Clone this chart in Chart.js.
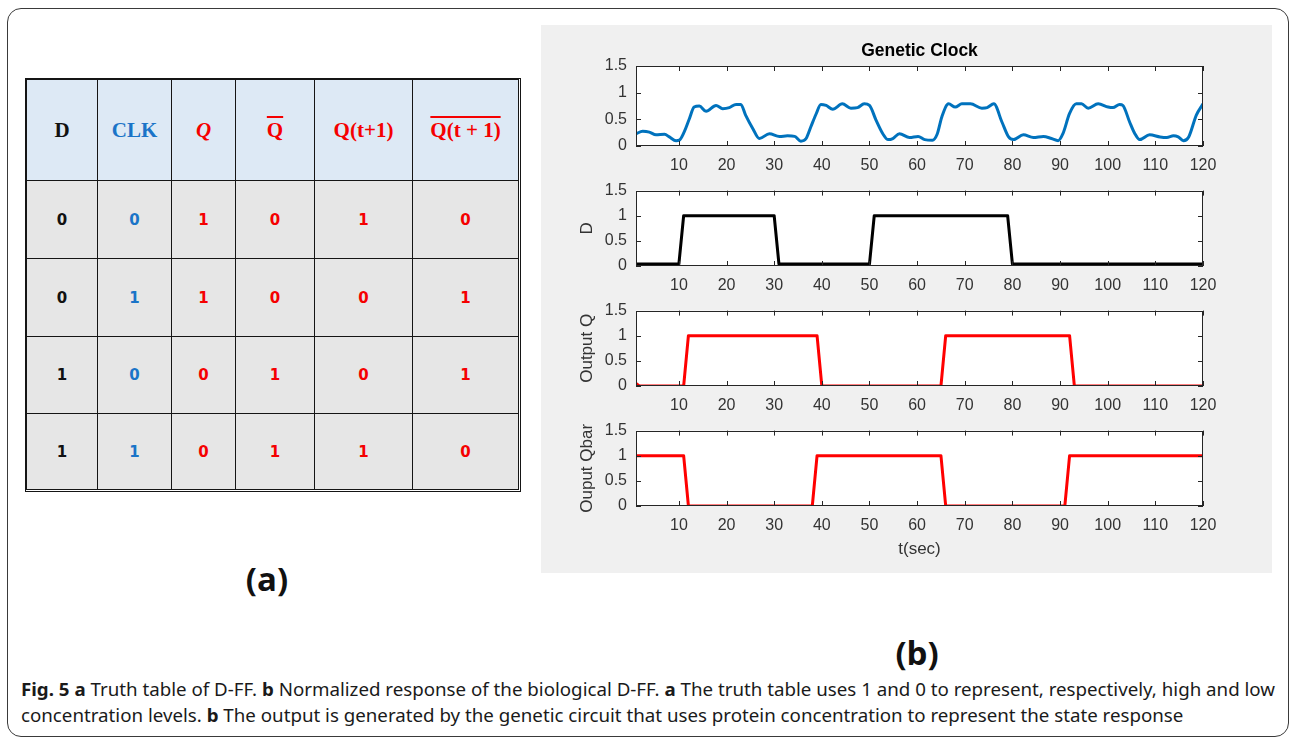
<!DOCTYPE html>
<html><head><meta charset="utf-8">
<script src="https://cdn.jsdelivr.net/npm/chart.js@4.4.0/dist/chart.umd.min.js"></script>
<style>
html,body{margin:0;padding:0;background:#fff;}
body{width:1292px;height:741px;position:relative;overflow:hidden;font-family:'Liberation Sans',Arial,sans-serif;}
#frame{position:absolute;left:7px;top:8px;width:1280px;height:727px;border:1.5px solid #3a3a3a;border-radius:14px;}
#panel{position:absolute;left:541px;top:25px;width:731px;height:548px;background:#f0f0f0;}
canvas{position:absolute;left:541px;}
.cell{position:absolute;box-sizing:border-box;border:1px solid #151515;display:flex;align-items:center;justify-content:center;}
.hd{background:#dde9f5;font-family:'Liberation Serif','DejaVu Serif',serif;font-weight:bold;font-size:21px;}
.bd{background:#e6e6e6;font-family:'DejaVu Sans',sans-serif;font-weight:bold;font-size:15px;}
#tbl{position:absolute;left:25px;top:78px;width:496px;height:414px;border:1px solid #151515;box-sizing:border-box;}
.lab{position:absolute;font-family:'Open Sans',sans-serif;font-weight:700;font-size:33px;color:#111;transform:translate(-50%,-50%);white-space:nowrap;}
.cap{position:absolute;left:21px;font-family:'Noto Sans',sans-serif;font-size:18px;line-height:26px;color:#1a1a1a;white-space:nowrap;transform-origin:0 0;}
.cap b{font-weight:bold;}
.ol{text-decoration:overline;text-decoration-thickness:2px;}
</style></head>
<body>
<div id="frame"></div>
<div id="tbl"></div>
<div class="lab" style="left:267px;top:578px;">(a)</div>
<div id="panel"></div>
<canvas id="c1" width="731" height="153" style="top:25px"></canvas>
<canvas id="c2" width="731" height="126" style="top:172px"></canvas>
<canvas id="c3" width="731" height="126" style="top:292px"></canvas>
<canvas id="c4" width="731" height="154" style="top:412px"></canvas>
<div class="lab" style="left:917px;top:652px;">(b)</div>
<div class="cap" id="cap1" style="top:676px;"><b>Fig. 5</b> <b>a</b> Truth table of D-FF. <b>b</b> Normalized response of the biological D-FF. <b>a</b> The truth table uses 1 and 0 to represent, respectively, high and low</div>
<div class="cap" id="cap2" style="top:702px;">concentration levels. <b>b</b> The output is generated by the genetic circuit that uses protein concentration to represent the state response</div>
<script>
// ---------------- data ----------------
const xTicks = [10,20,30,40,50,60,70,80,90,100,110,120];
const yTicks = [0,0.5,1,1.5];

const clockT = [1,2.4,3.8,5.2,7,8,9.4,10.1,11.1,12.2,13.2,14.3,15.7,17.8,19.2,20.6,22,23,24,25.5,26.9,29,31.1,32.8,34.3,35.6,36.7,37.7,38.8,39.8,40.9,42.3,44.3,46.1,47.5,48.9,50,51.4,52.8,53.9,54.9,56.3,58.4,60.2,61.6,63.2,64.2,65.2,66.6,68,69.4,71.2,73.6,74.7,76.1,77.8,79.2,80.2,82.3,84.4,86.5,88.2,89.6,90.6,92,93.4,94.5,95.9,98,100.1,101.1,102.5,103.2,104.6,105.7,106.7,108.8,111,112.4,113.8,114.8,115.9,117,118.6,120];
const clockV = [0.23,0.275,0.26,0.21,0.22,0.17,0.10,0.11,0.26,0.51,0.73,0.75,0.65,0.76,0.70,0.72,0.78,0.78,0.58,0.33,0.14,0.23,0.18,0.19,0.18,0.09,0.14,0.36,0.60,0.78,0.76,0.69,0.79,0.71,0.72,0.79,0.76,0.48,0.23,0.12,0.14,0.23,0.16,0.18,0.12,0.11,0.22,0.55,0.79,0.73,0.79,0.79,0.71,0.72,0.79,0.45,0.17,0.12,0.21,0.16,0.18,0.14,0.10,0.23,0.61,0.79,0.79,0.71,0.79,0.73,0.72,0.78,0.76,0.45,0.23,0.12,0.21,0.17,0.16,0.19,0.17,0.10,0.17,0.58,0.79];

const dT = [1,10,11,30,31,50,51,79,80,120];
const dV = [0.04,0.04,1,1,0.04,0.04,1,1,0.04,0.04];

const qT = [1,1.7,11,12,39,40,65,66,92,93,120];
const qV = [0.05,0,0,1,1,0,0,1,1,0,0];

const qbT = [1,11,12,38,39,65,66,91,92,120];
const qbV = [1,1,0,0,1,1,0,0,1,1];

const tableHeaders = ['D','CLK','Q','Q','Q(t+1)','Q(t + 1)'];
const tableRows = [[0,0,1,0,1,0],[0,1,1,0,0,1],[1,0,0,1,0,1],[1,1,0,1,1,0]];

// ---------------- table ----------------
const colEdges = [26,97,171,235,314,412,520];
const rowEdges = [79,180,258,336,413,491];
const colColors = ['#111','#1a74c8','#f50000','#f50000','#f50000','#f50000'];
const tbl = document.getElementById('tbl');
function addCell(r, c, html, cls){
  const d = document.createElement('div');
  d.className = 'cell ' + cls;
  d.style.left = (colEdges[c]-26)+'px';
  d.style.top = (rowEdges[r]-79)+'px';
  d.style.width = (colEdges[c+1]-colEdges[c]+ (c===5?-1:1))+'px';
  d.style.height = (rowEdges[r+1]-rowEdges[r]+(r===4?-1:1))+'px';
  d.style.color = colColors[c];
  d.innerHTML = html;
  tbl.appendChild(d);
}
tableHeaders.forEach((h,c)=>{
  let html = h;
  if (c===2) html = '<i>'+h+'</i>';
  if (c===3 || c===5) html = '<span class="ol">'+h+'</span>';
  addCell(0,c,html,'hd');
});
tableRows.forEach((row,r)=>row.forEach((v,c)=>addCell(r+1,c,String(v),'bd')));

// ---------------- caption fit ----------------
(function(){
  const c1 = document.getElementById('cap1'), c2 = document.getElementById('cap2');
  const w = c1.getBoundingClientRect().width;
  const s = 1254 / w;
  c1.style.transform = 'scaleX('+s+')';
  c2.style.transform = 'scaleX('+s+')';
})();

// ---------------- charts ----------------
Chart.defaults.font.family = "'Liberation Sans', Arial, sans-serif";
Chart.defaults.color = '#333';

const boxPlugin = {
  id: 'matlabBox',
  beforeDatasetsDraw(chart){
    const {ctx, chartArea:a} = chart;
    ctx.save(); ctx.fillStyle = '#fff';
    ctx.fillRect(a.left, a.top, a.right-a.left, a.bottom-a.top);
    ctx.restore();
  },
  afterDatasetsDraw(chart){
    const {ctx, chartArea:a, scales} = chart;
    const L = 5;
    ctx.save();
    ctx.strokeStyle = '#262626'; ctx.lineWidth = 1;
    ctx.strokeRect(Math.round(a.left)+0.5, Math.round(a.top)+0.5, Math.round(a.right-a.left)-1, Math.round(a.bottom-a.top)-1);
    ctx.beginPath();
    xTicks.forEach(v=>{
      const p = Math.round(scales.x.getPixelForValue(v))+0.5;
      ctx.moveTo(p, a.bottom); ctx.lineTo(p, a.bottom-L);
      ctx.moveTo(p, a.top); ctx.lineTo(p, a.top+L);
    });
    yTicks.forEach(v=>{
      const p = Math.round(scales.y.getPixelForValue(v))+0.5;
      ctx.moveTo(a.left, p); ctx.lineTo(a.left+L, p);
      ctx.moveTo(a.right, p); ctx.lineTo(a.right-L, p);
    });
    ctx.stroke();
    ctx.restore();
  }
};

function pts(T, V){ return T.map((t,i)=>({x:t, y:V[i]})); }

function makeChart(id, opt){
  return new Chart(document.getElementById(id), {
    type: 'line',
    data: { datasets: [{
      data: pts(opt.T, opt.V),
      borderColor: opt.color, borderWidth: 3, pointRadius: 0,
      cubicInterpolationMode: opt.smooth ? 'monotone' : 'default',
      tension: 0, borderJoinStyle: 'round', fill: false
    }]},
    options: {
      responsive: false, animation: false, events: [],
      layout: { padding: { top: opt.padTop, right: 69, bottom: 0, left: 0 } },
      plugins: {
        legend: { display: false }, tooltip: { enabled: false },
        title: opt.title ? {
          display: true, text: opt.title, fullSize: false, color: '#000',
          font: { size: 17.5, weight: 'bold' }, padding: { top: 15.5, bottom: 4.5 }
        } : { display: false }
      },
      scales: {
        x: {
          type: 'linear', min: 1, max: 120,
          afterBuildTicks(s){ s.ticks = xTicks.map(v=>({value:v})); },
          afterFit(s){ s.height = opt.xH; },
          grid: { display: false, drawTicks: false }, border: { display: false },
          ticks: { autoSkip: false, maxRotation: 0, padding: 10, color: '#333', font: { size: 16 }, callback: v => String(v) },
          title: opt.xTitle ? { display: true, text: opt.xTitle, color: '#333', font: { size: 17 }, padding: { top: 0, bottom: 6.8 } } : { display: false }
        },
        y: {
          min: 0, max: 1.5,
          afterBuildTicks(s){ s.ticks = yTicks.map(v=>({value:v})); },
          afterFit(s){ s.width = 95; },
          grid: { display: false, drawTicks: false }, border: { display: false },
          ticks: { padding: 9, color: '#333', font: { size: 16 }, callback: v => String(v) },
          title: opt.yTitle ? { display: true, text: opt.yTitle, color: '#333', font: { size: 17 }, padding: { top: 35.8, bottom: 0 } } : { display: false }
        }
      }
    },
    plugins: [boxPlugin]
  });
}

makeChart('c1', { T: clockT, V: clockV, color: '#0072bd', smooth: true, title: 'Genetic Clock', padTop: 0, xH: 32 });
makeChart('c2', { T: dT, V: dV, color: '#000000', yTitle: 'D', padTop: 15, xH: 32 });
makeChart('c3', { T: qT, V: qV, color: '#ff0000', yTitle: 'Output Q', padTop: 15, xH: 32 });
makeChart('c4', { T: qbT, V: qbV, color: '#ff0000', yTitle: 'Ouput Qbar', xTitle: 't(sec)', padTop: 15, xH: 60 });
</script>
</body></html>
